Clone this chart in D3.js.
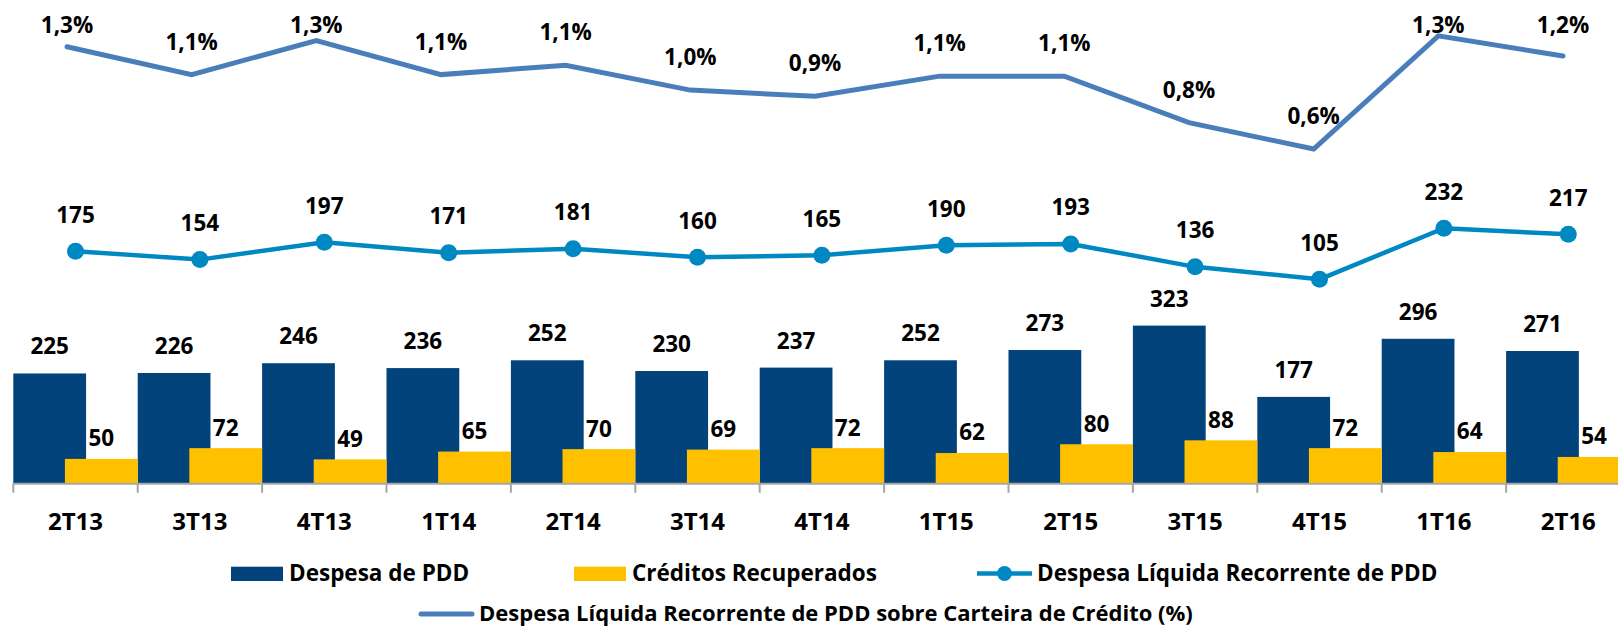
<!DOCTYPE html>
<html>
<head>
<meta charset="utf-8">
<script src="https://cdn.jsdelivr.net/npm/d3@7"></script>
<style>
  body { margin: 0; background: #fff; }
  svg { display: block; font-family: "Open Sans", Lato, sans-serif; font-weight: bold; }
</style>
</head>
<body>
<svg width="1618" height="628"></svg>
<script>
// Chart data
const quarters = ["2T13", "3T13", "4T13", "1T14", "2T14", "3T14", "4T14", "1T15", "2T15", "3T15", "4T15", "1T16", "2T16"];
const despesaPDD = [225, 226, 246, 236, 252, 230, 237, 252, 273, 323, 177, 296, 271];
const creditosRecuperados = [50, 72, 49, 65, 70, 69, 72, 62, 80, 88, 72, 64, 54];
const despesaLiquida = [175, 154, 197, 171, 181, 160, 165, 190, 193, 136, 105, 232, 217];
// % da carteira (values behind the rounded labels)
const despesaSobreCarteira = [1.26, 1.08, 1.30, 1.08, 1.14, 0.98, 0.94, 1.07, 1.07, 0.77, 0.60, 1.33, 1.20];

const colors = { pdd: "#02437B", rec: "#FFC000", liq: "#0088C3", pct: "#4A7EBB", axis: "#A6A6A6" };

document.addEventListener("DOMContentLoaded", function () {
    const svg = d3.select("svg");
    const fmtPct = v => d3.format(".1f")(v).replace(".", ",") + "%";
    const valueSize = 22.5;

    // x: one band per quarter, no gaps (last band runs off the right edge)
    const x = d3.scaleBand().domain(quarters).range([13.3, 13.3 + 13 * 124.4]).padding(0);
    const bw = x.bandwidth();
    const barW = bw * 0.585;
    // the % line sits on its own (secondary) category axis
    const xPct = d3.scalePoint().domain(quarters).range([67, 1563]);

    const yBar = d3.scaleLinear().domain([0, 990]).range([483.3, 0]);
    const yLiq = d3.scaleLinear().domain([0, 800]).range([321.5, 0]);
    const yPct = d3.scaleLinear().domain([0, 1.5]).range([242, 9.5]);

    // Bars
    const g = svg.append("g");
    g.selectAll(".bar-pdd").data(despesaPDD).join("rect")
        .attr("class", "bar-pdd")
        .attr("x", (d, i) => x(quarters[i]))
        .attr("y", d => yBar(d))
        .attr("width", barW)
        .attr("height", d => yBar(0) - yBar(d))
        .attr("fill", colors.pdd);

    g.selectAll(".bar-rec").data(creditosRecuperados).join("rect")
        .attr("class", "bar-rec")
        .attr("x", (d, i) => x(quarters[i]) + bw - barW)
        .attr("y", d => yBar(d))
        .attr("width", barW)
        .attr("height", d => yBar(0) - yBar(d))
        .attr("fill", colors.rec);

    // bar labels
    g.selectAll(".lbl-pdd").data(despesaPDD).join("text")
        .attr("x", (d, i) => x(quarters[i]) + barW / 2)
        .attr("y", d => yBar(d) - 19)
        .attr("text-anchor", "middle")
        .attr("font-size", valueSize)
        .text(d => d);

    g.selectAll(".lbl-rec").data(creditosRecuperados).join("text")
        .attr("x", (d, i) => x(quarters[i]) + bw - barW / 2)
        .attr("y", d => yBar(d) - 12.6)
        .attr("text-anchor", "middle")
        .attr("font-size", valueSize)
        .text(d => d);

    // x axis
    const xAxis = svg.append("g")
        .attr("transform", `translate(0,${yBar(0)})`)
        .call(d3.axisBottom(x).tickSize(0).tickPadding(30));
    xAxis.select(".domain").attr("stroke", colors.axis).attr("stroke-width", 2);
    xAxis.selectAll(".tick text")
        .attr("font-size", 24)
        .attr("font-family", "'Open Sans', sans-serif")
        .attr("font-weight", "bold")
        .attr("fill", "#000");
    // tick marks at band boundaries
    xAxis.selectAll(".bound").data(quarters).join("line")
        .attr("x1", d => x(d)).attr("x2", d => x(d))
        .attr("y1", 0).attr("y2", 9.5)
        .attr("stroke", colors.axis).attr("stroke-width", 2);

    // Despesa Líquida line with markers
    const cx = (d, i) => x(quarters[i]) + bw / 2;
    svg.append("path")
        .datum(despesaLiquida)
        .attr("fill", "none")
        .attr("stroke", colors.liq)
        .attr("stroke-width", 4.5)
        .attr("stroke-linejoin", "round")
        .attr("d", d3.line().x(cx).y(d => yLiq(d)));
    svg.selectAll(".mk").data(despesaLiquida).join("circle")
        .attr("cx", cx)
        .attr("cy", d => yLiq(d))
        .attr("r", 8.5)
        .attr("fill", colors.liq);
    svg.selectAll(".lbl-liq").data(despesaLiquida).join("text")
        .attr("x", cx)
        .attr("y", d => yLiq(d) - 28.5)
        .attr("text-anchor", "middle")
        .attr("font-size", valueSize)
        .text(d => d);

    // % line
    const px = (d, i) => xPct(quarters[i]);
    svg.append("path")
        .datum(despesaSobreCarteira)
        .attr("fill", "none")
        .attr("stroke", colors.pct)
        .attr("stroke-width", 5)
        .attr("stroke-linejoin", "miter")
        .attr("stroke-linecap", "round")
        .attr("d", d3.line().x(px).y(d => yPct(d)));
    svg.selectAll(".lbl-pct").data(despesaSobreCarteira).join("text")
        .attr("x", px)
        .attr("y", d => Math.max(yPct(d) - 25, 33.3))   // labels kept inside the plot area
        .attr("text-anchor", "middle")
        .attr("font-size", valueSize)
        .text(d => fmtPct(d));

    // Legend
    const legend = svg.append("g").attr("font-size", 22.5);
    const rectItems = [
        { label: "Despesa de PDD", color: colors.pdd, x: 231 },
        { label: "Créditos Recuperados", color: colors.rec, x: 574 }
    ];
    rectItems.forEach(it => {
        legend.append("rect").attr("x", it.x).attr("y", 566.7).attr("width", 52).attr("height", 14.3).attr("fill", it.color);
        legend.append("text").attr("x", it.x + 58).attr("y", 580.7).text(it.label);
    });

    // line + marker item
    legend.append("line").attr("x1", 977).attr("x2", 1032).attr("y1", 573.5).attr("y2", 573.5)
        .attr("stroke", colors.liq).attr("stroke-width", 4.5);
    legend.append("circle").attr("cx", 1004.5).attr("cy", 573.5).attr("r", 7.5).attr("fill", colors.liq);
    legend.append("text").attr("x", 1037).attr("y", 580.7).text("Despesa Líquida Recorrente de PDD");

    // plain line item (second legend row, sits right on the bottom edge)
    legend.append("line").attr("x1", 421).attr("x2", 472).attr("y1", 614).attr("y2", 614)
        .attr("stroke", colors.pct).attr("stroke-width", 5).attr("stroke-linecap", "round");
    legend.append("text").attr("x", 479).attr("y", 621).attr("font-size", 22)
        .text("Despesa Líquida Recorrente de PDD sobre Carteira de Crédito (%)");
});
</script>
</body>
</html>
